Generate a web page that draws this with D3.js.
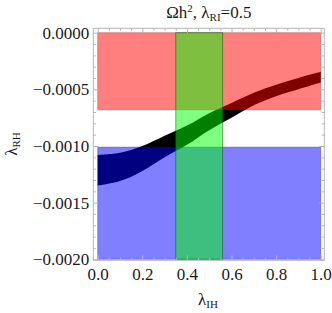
<!DOCTYPE html>
<html><head><meta charset="utf-8">
<script src="https://cdn.jsdelivr.net/npm/d3@7"></script>
<style>body{margin:0;background:#fff}svg{display:block}text{font-family:"Liberation Serif","DejaVu Serif",serif;fill:#1a1a1a}</style>
</head><body><svg id="c" width="332" height="313"></svg>
<script>
// data
const bandX      = [0, 0.1, 0.2, 0.3, 0.4, 0.5, 0.6, 0.7, 0.8, 0.9, 1.0];
const bandTop    = [-0.00108, -0.00106, -0.00100, -0.00091, -0.00082, -0.00071, -0.00062, -0.00053, -0.00046, -0.00040, -0.000345];
const bandBottom = [-0.00135, -0.00131, -0.00122, -0.00110, -0.00099, -0.00086, -0.00075, -0.00064, -0.00056, -0.00050, -0.00044];
const redRegion   = {x0: 0, x1: 1, y0: -0.00068, y1: 0};
const blueRegion  = {x0: 0, x1: 1, y0: -0.002, y1: -0.00101};
const greenRegion = {x0: 0.35, x1: 0.56, y0: -0.002, y1: 0};
const xTicks = [0, 0.2, 0.4, 0.6, 0.8, 1.0];
const yTicks = [0, -0.0005, -0.001, -0.0015, -0.002];
const titleText = "Ωh², λ";

const svg = d3.select("#c");
const x = d3.scaleLinear().domain([-0.0197, 1.016]).range([93.3, 324.3]);
const y = d3.scaleLinear().domain([-0.002009, 0.0000388]).range([260.3, 28.3]);

// band
const pts = bandX.map((v,i)=>({x:v, t:bandTop[i], b:bandBottom[i]}));
svg.append("path").datum(pts)
  .attr("d", d3.area().curve(d3.curveCatmullRom).x(d=>x(d.x)).y0(d=>y(d.b)).y1(d=>y(d.t)))
  .attr("fill","#000");

function rect(r, fill, stroke){
  svg.append("rect").attr("x", x(r.x0)).attr("y", y(r.y1))
    .attr("width", x(r.x1)-x(r.x0)).attr("height", y(r.y0)-y(r.y1))
    .attr("fill", fill).attr("stroke", stroke).attr("stroke-width", 1);
}
rect(redRegion, "rgba(255,0,0,0.5)", "rgba(150,0,0,0.3)");
rect(blueRegion, "rgba(0,0,255,0.5)", "rgba(0,0,150,0.3)");
rect(greenRegion, "rgba(0,255,0,0.5)", "rgba(0,90,0,0.5)");

// frame
const frameColor = "#b4b4b4";
svg.append("rect").attr("x", 93.3).attr("y", 28.3).attr("width", 231).attr("height", 232)
  .attr("fill","none").attr("stroke", frameColor).attr("stroke-width",1);

const xMinor = d3.range(0, 1.0001, 0.05).filter(v=>!xTicks.some(t=>Math.abs(t-v)<1e-9));
const yMinor = d3.range(0, -0.00200001, -0.0001).filter(v=>!yTicks.some(t=>Math.abs(t-v)<1e-12));

function styleAxis(g){ g.select(".domain").remove(); g.selectAll("line").attr("stroke", frameColor); g.selectAll("text").attr("fill","#1a1a1a").style("font-size","17px").style("font-family","'Liberation Serif',serif"); }

svg.append("g").attr("transform","translate(0,260.3)")
  .call(d3.axisBottom(x).tickValues(xTicks).tickFormat(d3.format(".1f")).tickSizeInner(-5).tickSizeOuter(0).tickPadding(8)).call(styleAxis);
svg.append("g").attr("transform","translate(0,260.3)")
  .call(d3.axisBottom(x).tickValues(xMinor).tickFormat("").tickSizeInner(-2.5).tickSizeOuter(0)).call(styleAxis);
svg.append("g").attr("transform","translate(0,28.3)")
  .call(d3.axisTop(x).tickValues(xTicks).tickFormat("").tickSizeInner(-5).tickSizeOuter(0)).call(styleAxis);
svg.append("g").attr("transform","translate(0,28.3)")
  .call(d3.axisTop(x).tickValues(xMinor).tickFormat("").tickSizeInner(-2.5).tickSizeOuter(0)).call(styleAxis);

svg.append("g").attr("transform","translate(93.3,0)")
  .call(d3.axisLeft(y).tickValues(yTicks).tickFormat(d3.format(".4f")).tickSizeInner(-5).tickSizeOuter(0).tickPadding(4)).call(styleAxis);
svg.append("g").attr("transform","translate(93.3,0)")
  .call(d3.axisLeft(y).tickValues(yMinor).tickFormat("").tickSizeInner(-2.5).tickSizeOuter(0)).call(styleAxis);
svg.append("g").attr("transform","translate(324.3,0)")
  .call(d3.axisRight(y).tickValues(yTicks).tickFormat("").tickSizeInner(-5).tickSizeOuter(0)).call(styleAxis);
svg.append("g").attr("transform","translate(324.3,0)")
  .call(d3.axisRight(y).tickValues(yMinor).tickFormat("").tickSizeInner(-2.5).tickSizeOuter(0)).call(styleAxis);

// title
const t = svg.append("text").attr("x", 208.8).attr("y", 17.5).attr("text-anchor","middle").style("font-size","17px");
t.append("tspan").text("Ωh");
t.append("tspan").text("2").attr("dy",-6).style("font-size","11px");
t.append("tspan").text(", λ").attr("dy",6);
t.append("tspan").text("RI").attr("dy",3).style("font-size","11px");
t.append("tspan").text("=0.5").attr("dy",-3);

// x label
const xl = svg.append("text").attr("x", 208).attr("y", 305).attr("text-anchor","middle").style("font-size","17px");
xl.append("tspan").text("λ");
xl.append("tspan").text("IH").attr("dy",3).style("font-size","11px");

// y label
const yl = svg.append("text").attr("transform","translate(17,144) rotate(-90)").attr("text-anchor","middle").style("font-size","17px");
yl.append("tspan").text("λ");
yl.append("tspan").text("RH").attr("dy",3).style("font-size","11px");
</script></body></html>
